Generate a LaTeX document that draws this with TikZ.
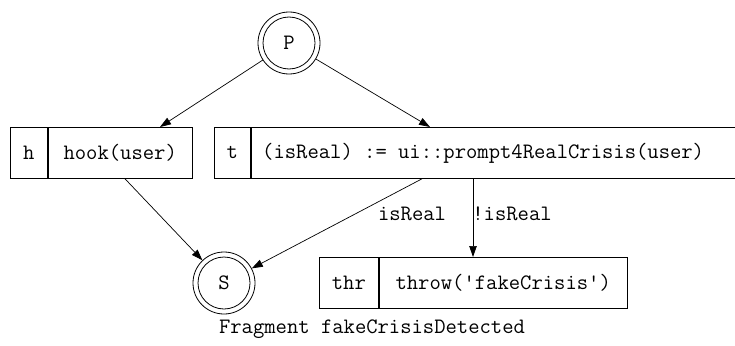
\documentclass[tikz,border=0pt]{standalone}
\usetikzlibrary{arrows.meta,calc}
\begin{document}
\begin{tikzpicture}[x=1pt,y=-1pt,
  every node/.style={font=\ttfamily\fontsize{22}{26}\selectfont, inner sep=0pt},
  cell/.style={draw, line width=0.8pt, rectangle, minimum height=51, anchor=north west},
  state/.style={draw, line width=0.8pt, circle, minimum size=62},
  arr/.style={line width=0.7pt, -{Triangle[length=11pt,width=7.5pt]}},
  lbl/.style={}]
\useasboundingbox (0,0) rectangle (735,345);
\clip (0,0) rectangle (735,345);
% states
\node[state] (P) at (289,43) {P};
\draw[line width=0.8pt] (P.center) circle (26);
\node[state] (S) at (224,283) {S};
\draw[line width=0.8pt] (S.center) circle (26);
% boxes
\node[cell, minimum width=37] (hl) at (10,127) {h};
\node[cell, minimum width=144] (hc) at (hl.north east) {hook(user)};
\node[cell, minimum width=36] (tl) at (214,127) {t};
\node[cell, inner xsep=11pt] (tc) at (tl.north east) {\makebox[475pt][l]{(isReal) := ui::prompt4RealCrisis(user)}};
\node[cell, minimum width=59] (thrl) at (319,257) {thr};
\node[cell, minimum width=248] (thrc) at (thrl.north east) {throw('fakeCrisis')};
% edges
\draw[arr] (P) -- ([xshift=150pt]hl.north west |- hc.north);
\draw[arr] (P) -- ([xshift=216pt]tl.north west |- tc.north);
\draw[arr] ([xshift=115pt]hl.south west |- hc.south) -- (S);
\draw[arr] ([xshift=208pt]tl.south west |- tc.south) -- (S);
\draw[arr] ([xshift=259pt]tl.south west |- tc.south) -- ([xshift=259pt]tl.south west |- thrc.north);
% labels
\node[lbl] (l1) at (412,214) {isReal};
\node[lbl] (l2) at (512,214) {!isReal};
\node[lbl] (frag) at (372,329) {Fragment fakeCrisisDetected};
\end{tikzpicture}
\end{document}
